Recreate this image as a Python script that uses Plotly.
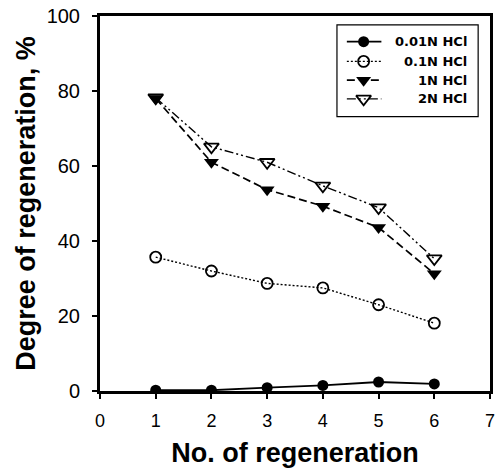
import plotly.graph_objects as go

# Regeneration cycles and degree of regeneration (%) for each eluent
cycles = [1, 2, 3, 4, 5, 6]
hcl_001n = [0.2, 0.2, 0.9, 1.5, 2.4, 1.9]
hcl_01n = [35.7, 32.0, 28.7, 27.5, 23.0, 18.1]
hcl_1n = [78.0, 61.0, 53.7, 49.3, 43.6, 31.3]
hcl_2n = [78.2, 65.1, 61.0, 54.7, 48.9, 35.3]
series_names = ["0.01N HCl", "0.1N HCl", "1N HCl", "2N HCl"]

x_ticks = [0, 1, 2, 3, 4, 5, 6, 7]
y_ticks = [0, 20, 40, 60, 80, 100]

FONT = "Liberation Sans, Arial, sans-serif"
LEGEND_FONT = "DejaVu Sans, sans-serif"

# line / marker style per series
styles = [
    dict(line=dict(color="black", width=1.8),
         marker=dict(symbol="circle", size=11, color="black")),
    dict(line=dict(color="black", width=1.4, dash="2px,2px"),
         marker=dict(symbol="circle-open", size=11, color="black", line=dict(width=1.8))),
    dict(line=dict(color="black", width=1.7, dash="8px,4px"),
         marker=dict(symbol="triangle-down", size=13, color="black")),
    dict(line=dict(color="black", width=1.4, dash="9px,3px,2px,3px,2px,3px"),
         marker=dict(symbol="triangle-down-open", size=13, color="black", line=dict(width=1.8))),
]
series_values = [hcl_001n, hcl_01n, hcl_1n, hcl_2n]

fig = go.Figure()
for name, vals, st in zip(series_names, series_values, styles):
    fig.add_trace(go.Scatter(x=cycles, y=vals, name=name, mode="lines+markers",
                             showlegend=False, **st))

# Key box drawn on an overlay axis pair that works in pixel units of the plot area
W, H = 500, 474
ML, MR, MT, MB = 100, 5, 11, 83
px_x = [ML, W - MR]
px_y = [H - MB, MT]

key_left, key_right, key_top, key_bottom = 340, 483, 20, 113
key_rows = [37, 57, 76, 95]
sample_x0, sample_x1, sample_mid = 350, 385, 367
text_right = 474

fig.add_shape(type="rect", xref="x2", yref="y2",
              x0=key_left, x1=key_right, y0=key_top, y1=key_bottom,
              line=dict(color="black", width=1.2), fillcolor="white", layer="below")
for name, st, yr in zip(series_names, styles, key_rows):
    fig.add_trace(go.Scatter(x=[sample_x0, sample_x1], y=[yr, yr], mode="lines",
                             line=st["line"], xaxis="x2", yaxis="y2",
                             showlegend=False, hoverinfo="skip"))
    fig.add_trace(go.Scatter(x=[sample_mid], y=[yr], mode="markers",
                             marker=st["marker"], xaxis="x2", yaxis="y2",
                             showlegend=False, hoverinfo="skip"))
    fig.add_annotation(x=text_right, y=yr, xref="x2", yref="y2",
                       text="<b>%s</b>" % name, showarrow=False,
                       xanchor="right", yanchor="middle",
                       font=dict(family=LEGEND_FONT, size=13, color="black"))

axis_common = dict(
    showline=True, linecolor="black", linewidth=3, mirror=True,
    ticks="outside", ticklen=5, tickwidth=2, tickcolor="black",
    showgrid=False, zeroline=False,
)

fig.update_layout(
    width=W, height=H,
    margin=dict(l=ML, r=MR, t=MT, b=MB),
    paper_bgcolor="white", plot_bgcolor="white",
    font=dict(family=FONT, color="black"),
    showlegend=False,
    xaxis=dict(range=[0, 7], tickvals=x_ticks,
               tickfont=dict(family=FONT, size=18, color="black"),
               ticklabelstandoff=6,
               title=dict(text="<b>No. of regeneration</b>",
                          font=dict(family=FONT, size=27), standoff=14),
               **axis_common),
    yaxis=dict(range=[0, 100], tickvals=y_ticks,
               tickfont=dict(family=FONT, size=20, color="black"),
               ticklabelstandoff=8,
               title=dict(text="<b>Degree of regeneration, %</b>",
                          font=dict(family=FONT, size=27), standoff=4),
               **axis_common),
    xaxis2=dict(range=px_x, overlaying="x", visible=False, fixedrange=True),
    yaxis2=dict(range=px_y, overlaying="y", visible=False, fixedrange=True),
)

fig.write_html("out.html")
